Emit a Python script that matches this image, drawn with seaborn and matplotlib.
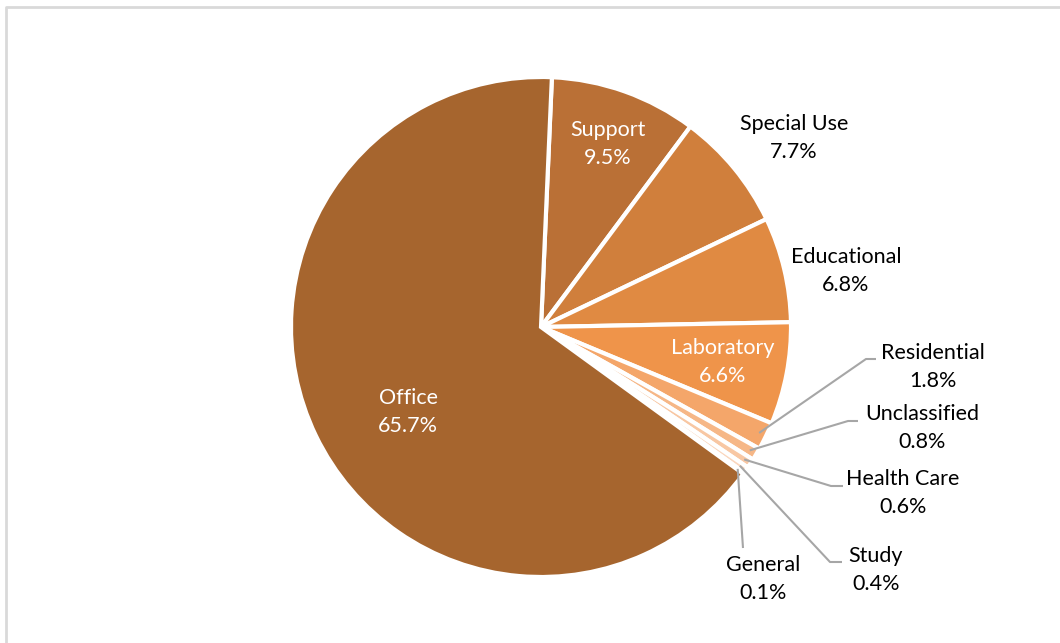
import matplotlib
matplotlib.use("Agg")
import matplotlib.pyplot as plt
import seaborn as sns
import numpy as np

sns.set_theme(style="white")
plt.rcParams['font.family'] = ['Lato', 'DejaVu Sans']

categories = ["Support", "Special Use", "Educational", "Laboratory", "Residential",
              "Unclassified", "Health Care", "Study", "General", "Office"]
values = [9.5, 7.7, 6.8, 6.6, 1.8, 0.8, 0.6, 0.4, 0.1, 65.7]
colors = ["#BA7036", "#D07F3C", "#E08A42", "#EF944A", "#F4A66A",
          "#F6B787", "#F8C7A3", "#FAD6BD", "#FCE4D5", "#A6652E"]

# label placement (pixel coords of text centre) and style
inside = {"Support", "Laboratory", "Office"}
label_pos = {
    "Support": (608, 144), "Special Use": (794, 138), "Educational": (846, 271),
    "Laboratory": (723, 362), "Office": (408, 412), "Residential": (933, 367),
    "Unclassified": (922, 428), "Health Care": (903, 493), "Study": (876, 570),
    "General": (763, 579),
}
leader_elbow = {
    "Residential": (866, 359), "Unclassified": (848, 421), "Health Care": (831, 486),
    "Study": (830, 562), "General": (743, 548),
}
leader_end = {
    "Residential": (876, 359), "Unclassified": (858, 421), "Health Care": (843, 486),
    "Study": (842, 562), "General": (743, 548),
}

W, H = 1060, 643
fig = plt.figure(figsize=(W / 100, H / 100), dpi=100)
ax = fig.add_axes([0, 0, 1, 1])
ax.set_xlim(0, W)
ax.set_ylim(0, H)
ax.set_aspect("equal")
ax.axis("off")

cx, cy, r = 541, H - 327, 250
wedges, _ = ax.pie(values, colors=colors, startangle=87.5, counterclock=False,
                   center=(cx, cy), radius=r,
                   wedgeprops=dict(edgecolor="white", linewidth=3))
ax.set_xlim(0, W)
ax.set_ylim(0, H)

for w, name, val in zip(wedges, categories, values):
    tx, ty = label_pos[name]
    txt = f"{name}\n{val}%"
    col = "white" if name in inside else "black"
    ax.text(tx, H - ty, txt, ha="center", va="center", color=col, fontsize=15.5,
            linespacing=1.55)
    if name in leader_elbow:
        ang = np.deg2rad((w.theta1 + w.theta2) / 2)
        px, py = cx + r * 0.97 * np.cos(ang), cy + r * 0.97 * np.sin(ang)
        ex, ey = leader_elbow[name]
        fx, fy = leader_end[name]
        ax.plot([px, ex, fx], [py, H - ey, H - fy], color="#A6A6A6", lw=1.5,
                solid_capstyle="butt")

# chart-area frame
ax.plot([6, 6, W + 5], [-5, H - 7, H - 7], color="#D9D9D9", lw=2)

fig.savefig("out.png", dpi=100)
